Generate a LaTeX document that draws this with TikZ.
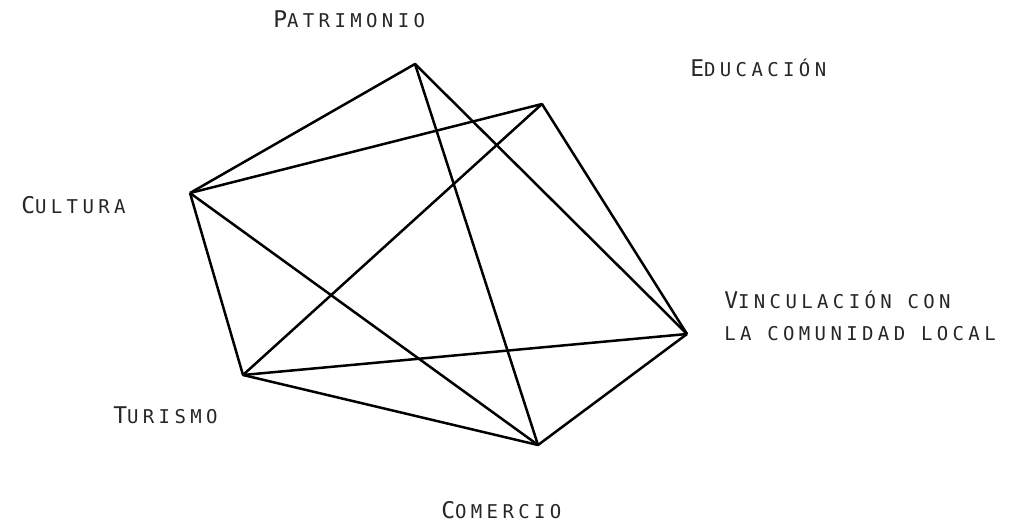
\documentclass[tikz,border=0pt]{standalone}
\usepackage{fontspec}
\newfontfamily\lblfont[LetterSpace=23]{DejaVu Sans Mono}
\newcommand{\bigsc}[2]{{\fontsize{23}{32}\selectfont #1}{\fontsize{19}{32}\selectfont #2}}

\begin{document}
\begin{tikzpicture}[x=1pt, y=-1pt, line width=2.5pt, line join=round,
    lbl/.style={inner sep=0pt, anchor=base west, text=black!85,
        font=\lblfont\fontsize{19}{32}\selectfont}]
            \useasboundingbox (0, 0) rectangle (1009, 527);

            % Vertices
            \coordinate (P) at (415, 64);
            \coordinate (E) at (542, 104);
            \coordinate (C) at (190, 193);
            \coordinate (V) at (687, 334);
            \coordinate (T) at (243, 375);
            \coordinate (M) at (538, 445);

            % Edges
            \draw (C) -- (P) -- (M);
            \draw (P) -- (V);
            \draw (C) -- (E) -- (T);
            \draw (E) -- (V);
            \draw (C) -- (T) -- (V);
            \draw (C) -- (M);
            \draw (T) -- (M) -- (V);

            % Labels
            \node[lbl] (patrimonio) at (272, 28) {\bigsc{P}{ATRIMONIO}};
            \node[lbl] (educacion) at (689, 77) {\bigsc{E}{DUCACIÓN}};
            \node[lbl] (cultura) at (20, 213) {\bigsc{C}{ULTURA}};
            \node[lbl, align=left] (vinculacion) at (723, 340)
                {\bigsc{V}{INCULACIÓN CON}\\\bigsc{}{LA COMUNIDAD LOCAL}};
            \node[lbl] (turismo) at (112, 423) {\bigsc{T}{URISMO}};
            \node[lbl] (comercio) at (440, 518) {\bigsc{C}{OMERCIO}};

        \end{tikzpicture}
\end{document}
